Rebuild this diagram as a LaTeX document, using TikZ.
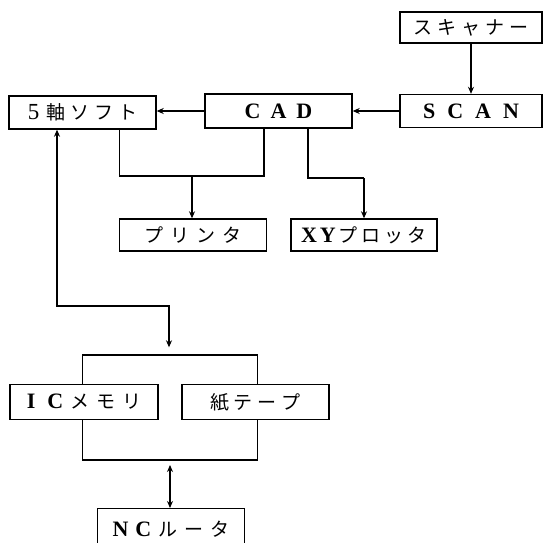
\documentclass[tikz,border=0pt]{standalone}
\usepackage{fontspec}
\setmainfont{Liberation Serif}
\newfontfamily\jp{Noto Sans CJK JP}
\usetikzlibrary{arrows.meta}
\newcommand{\gp}[1][5pt]{\hspace{#1}}
\newcommand{\lat}[1]{{\fontsize{22}{24}\selectfont\bfseries #1}}
\begin{document}
\begin{tikzpicture}[x=1pt,y=-1pt,
  box/.style={draw,line width=1.4pt,fill=white,minimum width=147pt,minimum height=33pt,inner sep=0pt,font=\fontsize{19}{22}\selectfont},
  conn/.style={line width=1.4pt},
  tip/.tip={Stealth[length=7pt,width=6pt]},
  arr/.style={conn,-tip},
  darr/.style={conn,tip-tip}]
\useasboundingbox (0,0) rectangle (547,543);
% frame behind the two storage boxes
\node[draw,line width=1.4pt,minimum width=175pt,minimum height=105pt,inner sep=0pt] (big) at (170,407.5) {};
\node[box,minimum width=142pt,minimum height=31pt] (scanner) at (471,27.5) {\jp ス\gp キ\gp ャ\gp ナ\gp ー};
\node[box,minimum width=142pt] (scan) at (471,111) {\lat{S\hspace{12pt}C\hspace{12pt}A\hspace{12pt}N}};
\node[box,minimum height=34pt] (cad) at (278.5,111) {\lat{C\hspace{10pt}A\hspace{10pt}D}};
\node[box] (soft) at (82.5,112.5) {{\fontsize{23}{24}\selectfont 5}\gp[7pt]\jp 軸\gp ソ\gp フ\gp ト};
\node[box,minimum height=32pt] (printer) at (193,235) {\jp プ\gp[7pt]リ\gp[7pt]ン\gp[7pt]タ};
\node[box,minimum width=146pt,minimum height=32pt] (xy) at (364,235) {\lat{X\hspace{3pt}Y}\gp[3pt]\jp プ\gp[4pt]ロ\gp[4pt]ッ\gp[4pt]タ};
\node[box,minimum width=148pt,minimum height=35pt] (ic) at (84,402) {\lat{I\hspace{12pt}C}\gp[7pt]\jp メ\gp[7pt]モ\gp[7pt]リ};
\node[box,minimum height=35pt] (paper) at (255.5,402) {\jp 紙\gp テ\gp ー\gp プ};
\node[box,minimum height=40pt,anchor=north] (nc) at (171,508) {\lat{N\hspace{7pt}C}\gp[7pt]\jp ル\gp[7pt]ー\gp[7pt]タ};
% connectors
\draw[arr] (scanner.south) -- (scan.north);
\draw[arr] (scan.west) -- (cad.east |- scan.west);
\draw[arr] (cad.west) -- (soft.east |- cad.west);
\coordinate (j1) at (192,176);
\draw[conn] (soft.south -| 119.5,0) |- (j1) -| (cad.south -| 264,0);
\draw[arr] (j1) -- (printer.north -| j1);
\coordinate (j2) at (364,178);
\draw[conn] (cad.south -| 308,0) |- (j2);
\draw[arr] (j2) -- (xy.north);
\coordinate (j3) at (169,306);
\draw[darr,shorten >=7pt] (soft.south -| 57,0) |- (j3) -- (big.north -| j3);
\coordinate (b1) at (170,465);
\draw[darr] (b1) -- (nc.north -| b1);
\end{tikzpicture}
\end{document}
